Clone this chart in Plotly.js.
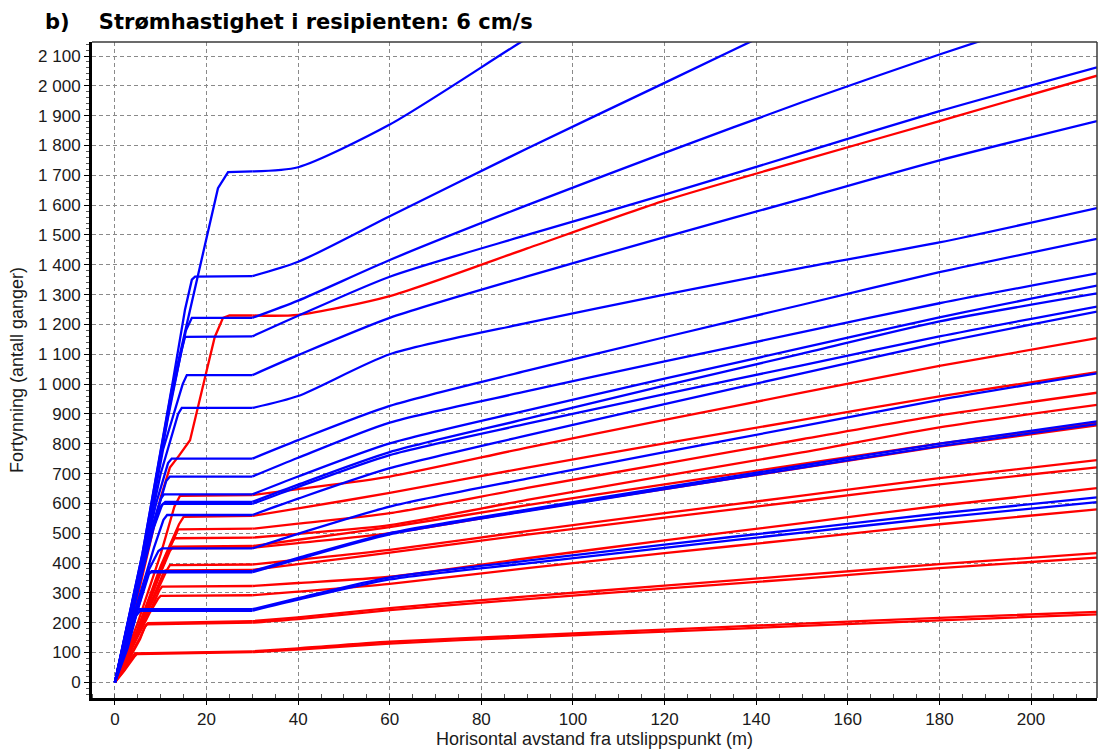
<!DOCTYPE html>
<html>
<head>
<meta charset="utf-8">
<script src="https://cdn.plot.ly/plotly-3.0.1.min.js"></script>
<style>
  html, body { margin: 0; padding: 0; background: #ffffff; }
  #chart { width: 1110px; height: 749px; }
</style>
</head>
<body>
<div id="chart"></div>
<script>
// Dilution (fortynning) versus horizontal distance from the outlet, current speed 6 cm/s.
// Each curve: steep rise from the outlet to a plateau, then a slow increase downstream.

// Shared downstream x positions (m) for the tail part of every curve
const tailX = [30, 40, 60, 90, 120, 150, 180, 214.4];

// Blue curves: near-field rise (x, y) and downstream values on tailX
const blueRiseX = [
  [0, 6, 12.4, 22.5, 24.7],
  [0, 6, 12.7, 15.3, 16.8, 17.5],
  [0, 6, 12, 15.5, 16.8],
  [0, 6, 11.5, 14.5, 15.3],
  [0, 5, 10.5, 14.8, 15.7],
  [0, 5, 10, 13.8, 14.6],
  [0, 4.5, 9, 11.6, 12.4],
  [0, 4.5, 9, 11.2, 12],
  [0, 4, 8.5, 10, 10.7],
  [0, 4, 8.5, 10.3, 11],
  [0, 4, 8, 9.8, 10.5],
  [0, 4, 8.5, 10.6, 11.4],
  [0, 4, 7.5, 9.5, 10.3],
  [0, 3.5, 6.5, 7.4, 8],
  [0, 3.5, 6.2, 7, 7.6],
  [0, 2.5, 4.2, 5],
  [0, 2.8, 4.6, 5.5]
];
const blueRiseY = [
  [0, 430, 980, 1657, 1711],
  [0, 430, 1014, 1249, 1350, 1360],
  [0, 420, 930, 1180, 1222],
  [0, 420, 880, 1110, 1158],
  [0, 330, 780, 1000, 1030],
  [0, 340, 700, 900, 920],
  [0, 300, 600, 735, 750],
  [0, 290, 560, 675, 690],
  [0, 260, 540, 615, 630],
  [0, 250, 520, 595, 605],
  [0, 240, 500, 585, 598],
  [0, 220, 450, 545, 561],
  [0, 200, 380, 440, 449],
  [0, 170, 320, 362, 373],
  [0, 165, 310, 358, 369],
  [0, 120, 225, 245],
  [0, 115, 222, 240]
];
const blueTailY = [
  [1713, 1727, 1870, 2160, 2440, 2700, 2950, 3230],
  [1362, 1410, 1563, 1790, 2010, 2230, 2440, 2680],
  [1222, 1280, 1416, 1600, 1775, 1945, 2105, 2280],
  [1160, 1229, 1360, 1500, 1635, 1775, 1915, 2062],
  [1030, 1097, 1222, 1361, 1493, 1621, 1750, 1882],
  [920, 960, 1100, 1205, 1300, 1390, 1475, 1590],
  [750, 812, 927, 1045, 1157, 1266, 1375, 1487],
  [690, 753, 871, 976, 1076, 1174, 1271, 1371],
  [630, 690, 801, 912, 1018, 1121, 1224, 1330],
  [605, 663, 772, 884, 995, 1102, 1210, 1304],
  [598, 655, 762, 867, 966, 1063, 1160, 1260],
  [561, 616, 718, 828, 933, 1036, 1138, 1243],
  [449, 498, 589, 683, 772, 859, 947, 1036],
  [373, 417, 500, 579, 654, 727, 800, 875],
  [369, 413, 496, 574, 648, 720, 792, 866],
  [245, 282, 352, 408, 462, 514, 566, 620],
  [240, 277, 345, 399, 451, 502, 552, 604]
];

// Red curves: near-field rise (x, y) and downstream values on tailX
const redRiseX = [
  [0, 5, 10, 12, 14, 16.4, 19.7, 21.8, 23.6, 25],
  [0, 5, 10, 13, 14.2],
  [0, 5, 10, 14, 15],
  [0, 5, 10, 13, 13.8],
  [0, 5, 10, 12.3, 13],
  [0, 5, 9.5, 12, 12.7],
  [0, 5, 9, 11.3, 12],
  [0, 4.5, 9, 11.3, 12],
  [0, 4.5, 8.5, 10.4, 11],
  [0, 4, 8, 9.7, 10.3],
  [0, 4, 7.5, 9.4, 10],
  [0, 3, 5.5, 6.7, 7.2],
  [0, 3, 5.5, 6.5, 7],
  [0, 2, 3.8, 4.4],
  [0, 2, 4.2, 4.8]
];
const redRiseY = [
  [0, 290, 620, 720, 760, 812, 1024, 1158, 1222, 1230],
  [0, 200, 430, 590, 625],
  [0, 180, 390, 530, 555],
  [0, 180, 380, 490, 513],
  [0, 170, 370, 465, 483],
  [0, 170, 350, 440, 455],
  [0, 165, 335, 432, 449],
  [0, 150, 300, 375, 393],
  [0, 150, 290, 360, 375],
  [0, 130, 250, 308, 321],
  [0, 120, 230, 280, 290],
  [0, 80, 150, 190, 198],
  [0, 75, 145, 185, 194],
  [0, 40, 85, 97],
  [0, 38, 85, 95]
];
const redTailY = [
  [1230, 1232, 1295, 1455, 1615, 1750, 1882, 2034],
  [628, 648, 690, 787, 880, 971, 1061, 1154],
  [558, 583, 635, 720, 801, 880, 959, 1040],
  [515, 532, 567, 652, 733, 815, 895, 971],
  [485, 498, 527, 612, 692, 771, 855, 930],
  [457, 478, 520, 594, 664, 732, 800, 870],
  [451, 467, 500, 576, 648, 719, 790, 862],
  [395, 411, 444, 507, 567, 626, 685, 745],
  [377, 396, 435, 495, 552, 608, 664, 721],
  [323, 333, 354, 416, 476, 534, 592, 651],
  [292, 304, 330, 383, 433, 481, 530, 580],
  [205, 218, 249, 288, 324, 360, 396, 433],
  [200, 212, 242, 279, 314, 348, 383, 418],
  [104, 114, 136, 157, 177, 197, 216, 236],
  [101, 110, 130, 151, 170, 189, 208, 228]
];

// Axis tick values
const xTicks = [0, 20, 40, 60, 80, 100, 120, 140, 160, 180, 200];
const yTicks = [0, 100, 200, 300, 400, 500, 600, 700, 800, 900, 1000,
                1100, 1200, 1300, 1400, 1500, 1600, 1700, 1800, 1900, 2000, 2100];

const titleText = 'b)\u00A0\u00A0\u00A0 Strømhastighet i resipienten: 6 cm/s';
const xTitle = 'Horisontal avstand fra utslippspunkt (m)';
const yTitle = 'Fortynning (antall ganger)';

const LINE_W = 2.3;

// Each curve is drawn as a straight near-field part up to x = 30
// and a smoothed downstream part from x = 30 onward.
function buildTraces(riseX, riseY, tailY, color) {
  const out = [];
  riseX.forEach(function (rx, i) {
    out.push({
      type: 'scatter', mode: 'lines',
      x: rx.concat([tailX[0]]),
      y: riseY[i].concat([tailY[i][0]]),
      line: { color: color, width: LINE_W },
      hoverinfo: 'skip', showlegend: false
    });
    out.push({
      type: 'scatter', mode: 'lines',
      x: tailX,
      y: tailY[i],
      line: { color: color, width: LINE_W, shape: 'spline', smoothing: 0.7 },
      hoverinfo: 'skip', showlegend: false
    });
  });
  return out;
}

// red first so the blue curves sit on top
const traces = buildTraces(redRiseX, redRiseY, redTailY, '#ff0000')
  .concat(buildTraces(blueRiseX, blueRiseY, blueTailY, '#0000ff'));

const tickFont = { family: 'Liberation Sans, Arial, sans-serif', size: 17, color: '#1a1a1a' };
const axisTitleFont = { family: 'Liberation Sans, Arial, sans-serif', size: 18, color: '#1a1a1a' };

const layout = {
  width: 1110,
  height: 749,
  margin: { l: 92, r: 13, t: 42, b: 51, pad: 0 },
  paper_bgcolor: '#ffffff',
  plot_bgcolor: '#ffffff',
  separators: ', ',
  showlegend: false,
  title: {
    text: titleText,
    font: { family: 'DejaVu Sans, Verdana, sans-serif', size: 21, color: '#000000', weight: 'bold' },
    xref: 'container', yref: 'container',
    x: 45 / 1110, xanchor: 'left',
    y: 1 - 22 / 749, yanchor: 'middle'
  },
  xaxis: {
    range: [-5, 214.4],
    tickmode: 'array',
    tickvals: xTicks,
    showgrid: true,
    gridcolor: '#8a8a8a',
    griddash: '4px,3px',
    gridwidth: 1,
    zeroline: false,
    showline: true,
    linecolor: '#000000',
    linewidth: 3,
    ticks: 'outside',
    ticklen: 4,
    tickcolor: '#000000',
    tickfont: tickFont,
    minor: { dtick: 5, tick0: 0, ticks: 'inside', ticklen: 4, tickcolor: '#555555', showgrid: false },
    title: { text: xTitle, font: axisTitleFont, standoff: 6 },
    fixedrange: true
  },
  yaxis: {
    range: [-52.6, 2147],
    tickmode: 'array',
    tickvals: yTicks,
    separatethousands: true,
    showgrid: true,
    gridcolor: '#8a8a8a',
    griddash: '4px,3px',
    gridwidth: 1,
    zeroline: false,
    showline: true,
    linecolor: '#000000',
    linewidth: 3,
    ticks: 'outside',
    ticklen: 5,
    tickcolor: '#000000',
    tickfont: tickFont,
    minor: { dtick: 20, tick0: 0, ticks: 'outside', ticklen: 3, tickcolor: '#555555', showgrid: false },
    title: { text: yTitle, font: axisTitleFont, standoff: 10 },
    fixedrange: true
  },
  shapes: [
    { type: 'line', xref: 'paper', yref: 'paper', x0: 0, x1: 1, y0: 1, y1: 1,
      line: { color: '#3a3a3a', width: 1.5 } },
    { type: 'line', xref: 'paper', yref: 'paper', x0: 1, x1: 1, y0: 0, y1: 1,
      line: { color: '#3a3a3a', width: 1.5 } }
  ]
};

Plotly.newPlot('chart', traces, layout, { staticPlot: true, displayModeBar: false });
</script>
</body>
</html>
